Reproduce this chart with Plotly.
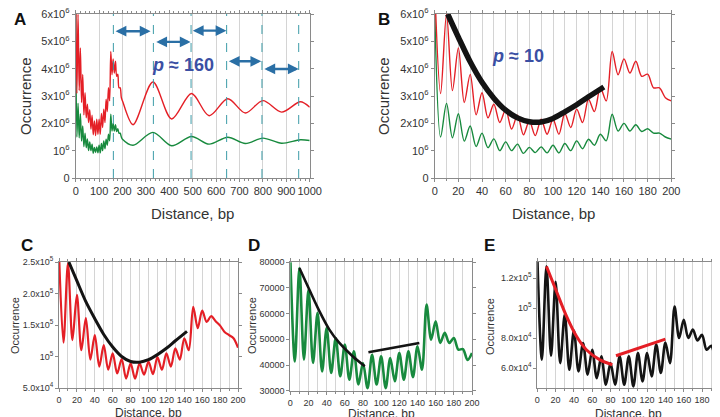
import plotly.graph_objects as go

W, H = 720, 417

# ---------------- data ----------------
bp5 = list(range(0, 201, 5))

# panel B (and start of panel A): occurrence, x 1e6
red_b = [7.0, 3.09, 6.0, 3.2, 4.76, 2.76, 3.79, 2.31, 3.12, 2.2, 2.7, 2.03, 2.5, 1.79,
         2.3, 1.58, 2.09, 1.55, 2.15, 1.6, 2.15, 1.6, 2.36, 1.85, 2.52, 2.03, 2.88,
         2.43, 3.3, 2.82, 4.63, 3.78, 4.36, 3.84, 4.27, 3.72, 3.8, 3.3, 3.3, 2.94, 2.82]
green_b = [6.2, 1.5, 2.73, 1.47, 2.35, 1.35, 1.9, 1.15, 1.64, 1.11, 1.43, 1.0, 1.32, 1.0,
           1.24, 0.9, 1.12, 0.93, 1.14, 0.92, 1.2, 0.92, 1.26, 1.0, 1.36, 1.07, 1.42,
           1.2, 1.6, 1.36, 2.33, 1.72, 2.0, 1.72, 1.95, 1.7, 1.8, 1.64, 1.64, 1.5, 1.42]
fit_b_x = [11, 20, 30, 40, 50, 60, 70, 80, 90, 100, 110, 120, 130, 143]
fit_b_y = [6.0, 5.15, 4.25, 3.5, 2.92, 2.48, 2.2, 2.06, 2.05, 2.18, 2.42, 2.68, 2.97, 3.33]

# panel A beyond 200 bp: peaks / troughs, x 1e6
tail_x = [245, 330, 410, 495, 570, 650, 725, 800, 880, 960, 1000]
red_tail = [1.95, 3.51, 2.16, 3.09, 2.28, 2.9, 2.38, 2.83, 2.41, 2.79, 2.59]
green_tail = [1.2, 1.67, 1.18, 1.52, 1.24, 1.49, 1.26, 1.46, 1.27, 1.4, 1.37]
dash_x = [161, 332, 493, 645, 796, 953]
arrows = [(164, 320, 5.37), (338, 491, 4.98), (494, 644, 5.39), (648, 793, 4.27), (800, 953, 3.99)]

# panel C, x 1e3
red_c = [265, 122, 248, 126, 198, 110, 161, 95, 134, 84, 118, 79, 105, 73, 96, 65, 89, 65,
         89, 71, 92, 72, 99, 79, 105, 84, 113, 95, 129, 110, 179, 145, 173, 155, 164, 156,
         149, 139, 134, 129, 114]
fit_c_x = [11, 20, 30, 40, 50, 60, 70, 80, 90, 100, 110, 120, 130, 143]
fit_c_y = [250, 220, 187, 160, 135, 115, 100, 92, 91, 95, 103, 113, 125, 140]

# panel D
green_d = [82, 41.4, 77.8, 42.1, 69.3, 40.8, 60.3, 37.5, 54.4, 36.9, 50.5, 35.6, 48, 34.3,
           45.3, 32.4, 40.8, 31, 44, 32.4, 43.4, 31, 42.7, 33.7, 44.7, 34.3, 45.3, 35.3,
           47.3, 38.2, 63.5, 49.9, 57, 48.6, 52.5, 48.6, 50.5, 46, 46.2, 42, 44.7]
fit_d1_x = [10, 21, 32, 43, 54, 68.6, 82]
fit_d1_y = [77.8, 69.3, 61, 53.8, 48.6, 43.4, 39.5]
fit_d2_x = [86, 142]
fit_d2_y = [45, 48.6]

# panel E, x 1e3
black_e = [135, 65.6, 127.8, 68.2, 117.5, 63.3, 95.6, 58.9, 85, 57.8, 76.7, 55.6, 72.2, 53.3,
           67.8, 48.9, 63.3, 48.9, 67.8, 48.9, 67.8, 47.8, 70, 51.1, 70, 54.4, 75.6, 56.7,
           77, 63.3, 101, 80, 92.2, 80, 85.6, 78.4, 82.2, 72.2, 74.9, 67.8, 70]
fit_e1_x = [10, 21, 32, 43, 53.6, 68, 82]
fit_e1_y = [127.8, 111, 94.4, 81, 72.2, 65.6, 62.2]
fit_e2_x = [86, 140]
fit_e2_y = [68.2, 79.3]

RED = "#e41f26"
GREEN = "#188a3e"
BLACK = "#141414"
FONT = "Liberation Sans, Arial, sans-serif"


def dom_x(a, b):
    return [a / W, b / W]


def dom_y(top, bottom):
    return [1 - bottom / H, 1 - top / H]


fig = go.Figure()


def line(x, y, ax, color, width, shape="spline"):
    fig.add_trace(go.Scatter(x=x, y=y, mode="lines", xaxis="x" + ax, yaxis="y" + ax,
                             line=dict(color=color, width=width, shape=shape, smoothing=0.9),
                             showlegend=False, hoverinfo="skip"))


m6 = [v * 1e6 for v in red_b]
g6 = [v * 1e6 for v in green_b]

# A
line(bp5 + tail_x, g6 + [v * 1e6 for v in green_tail], "", GREEN, 1.4)
line(bp5 + tail_x, m6 + [v * 1e6 for v in red_tail], "", RED, 1.4)
# B
line(bp5, g6, "2", GREEN, 1.4)
line(bp5, m6, "2", RED, 1.4)
line(fit_b_x, [v * 1e6 for v in fit_b_y], "2", BLACK, 5.5)
# C
line(bp5, [v * 1e3 for v in red_c], "3", RED, 2.2)
line(fit_c_x, [v * 1e3 for v in fit_c_y], "3", BLACK, 3)
# D
line(bp5, [v * 1e3 for v in green_d], "4", GREEN, 2.6)
line(fit_d1_x, [v * 1e3 for v in fit_d1_y], "4", BLACK, 2.6)
line(fit_d2_x, [v * 1e3 for v in fit_d2_y], "4", BLACK, 2.6, "linear")
# E
line(bp5, [v * 1e3 for v in black_e], "5", BLACK, 2.6)
line(fit_e1_x, [v * 1e3 for v in fit_e1_y], "5", RED, 3)
line(fit_e2_x, [v * 1e3 for v in fit_e2_y], "5", RED, 3, "linear")


def xax(domain, anchor, rng, dtick, minor, fs, grid_minor=True):
    return dict(domain=domain, anchor=anchor, range=rng, dtick=dtick, tick0=0,
                automargin=False, tickangle=0, ticklabeloverflow="allow",
                showline=True, linecolor="#8a8a8a", linewidth=1, mirror="ticks",
                ticks="outside", ticklen=3, tickcolor="#8a8a8a", showgrid=True,
                gridcolor="#d4d4d4", gridwidth=1, zeroline=False,
                tickfont=dict(size=fs, color="#333", family=FONT),
                minor=dict(dtick=minor, tick0=0, ticks="outside", ticklen=2,
                           tickcolor="#8a8a8a", showgrid=grid_minor, gridcolor="#d4d4d4"))


def yax(domain, anchor, rng, vals, texts, fs):
    return dict(domain=domain, anchor=anchor, range=rng, tickvals=vals, ticktext=texts,
                automargin=False, ticklabeloverflow="allow",
                showline=True, linecolor="#8a8a8a", linewidth=1, mirror="ticks",
                ticks="outside", ticklen=3, tickcolor="#8a8a8a", showgrid=False,
                zeroline=False, tickfont=dict(size=fs, color="#333", family=FONT))


e6 = [i * 1e6 for i in range(7)]
t6 = ["0", "10<sup>6</sup>"] + ["%dx10<sup>6</sup>" % i for i in range(2, 7)]

fig.update_layout(
    template="none",
    width=W, height=H, margin=dict(l=0, r=0, t=0, b=0, autoexpand=False),
    paper_bgcolor="white", plot_bgcolor="white", font=dict(family=FONT, color="#333"),
    xaxis=xax(dom_x(67.7, 301.7), "y", [0, 1000], 100, 20, 11, grid_minor=False),
    yaxis=yax(dom_y(6, 170), "x", [0, 6e6], e6, t6, 11),
    xaxis2=xax(dom_x(426.7, 663.3), "y2", [0, 200], 20, 10, 11),
    yaxis2=yax(dom_y(6, 170), "x2", [0, 6e6], e6, t6, 11),
    xaxis3=xax(dom_x(51, 230), "y3", [0, 200], 20, 10, 9),
    yaxis3=yax(dom_y(254, 380), "x3", [5e4, 2.5e5], [5e4, 1e5, 1.5e5, 2e5, 2.5e5],
               ["5.0x10<sup>4</sup>", "10<sup>5</sup>", "1.5x10<sup>5</sup>",
                "2.0x10<sup>5</sup>", "2.5x10<sup>5</sup>"], 9),
    xaxis4=xax(dom_x(282.3, 464), "y4", [0, 200], 20, 10, 9),
    yaxis4=yax(dom_y(254.3, 382.7), "x4", [30000, 80000],
               [30000, 40000, 50000, 60000, 70000, 80000],
               ["30000", "40000", "50000", "60000", "70000", "80000"], 9),
    xaxis5=xax(dom_x(529.3, 712.3), "y5", [0, 200], 20, 10, 9),
    yaxis5=yax(dom_y(254, 380), "x5", [46700, 130700], [6e4, 8e4, 1e5, 1.2e5],
               ["6.0x10<sup>4</sup>", "8.0x10<sup>4</sup>", "10<sup>5</sup>",
                "1.2x10<sup>5</sup>"], 9),
)

# dashed period markers and arrows in A
for xv in dash_x:
    fig.add_shape(type="line", xref="x", yref="y", x0=xv, x1=xv, y0=0, y1=6e6,
                  line=dict(color="#3d9ca8", width=1, dash="dash"))
for a, b, yv in arrows:
    fig.add_annotation(xref="x", yref="y", axref="x", ayref="y", x=b, y=yv * 1e6,
                       ax=a, ay=yv * 1e6, text="", showarrow=True, arrowhead=2,
                       arrowside="end+start", arrowsize=0.9, arrowwidth=2.4,
                       arrowcolor="#2a6fa5")


def note(text, x, y, size, angle=0, color="#333", yanchor="middle"):
    fig.add_annotation(xref="paper", yref="paper", x=x / W, y=1 - y / H, text=text,
                       showarrow=False, textangle=angle, xanchor="center", yanchor=yanchor,
                       font=dict(size=size, color=color, family=FONT))


note("<b><i>p</i> ≈ 160</b>", 175, 57, 18, color="#3b4fa3")
note("<b><i>p</i> ≈ 10</b>", 510, 48, 18, color="#3b4fa3")

for lab, x, y in [("A", 12, 0), ("B", 376, 0), ("C", 19, 226), ("D", 246, 226), ("E", 482, 226)]:
    note("<b>%s</b>" % lab, x, y, 17, color="#111", yanchor="top")

note("Occurrence", 17, 88, 15, -90)
note("Occurrence", 375, 88, 15, -90)
note("Distance, bp", 185, 205, 15)
note("Distance, bp", 545, 205, 15)
note("Occurrence", 7, 318, 11, -90)
note("Occurrence", 244, 318, 11, -90)
note("Occurrence", 482, 318, 11, -90)
note("Distance, bp", 140, 405, 12)
note("Distance, bp", 373, 406, 12)
note("Distance, bp", 620, 406, 12)

fig.write_html("out.html")
